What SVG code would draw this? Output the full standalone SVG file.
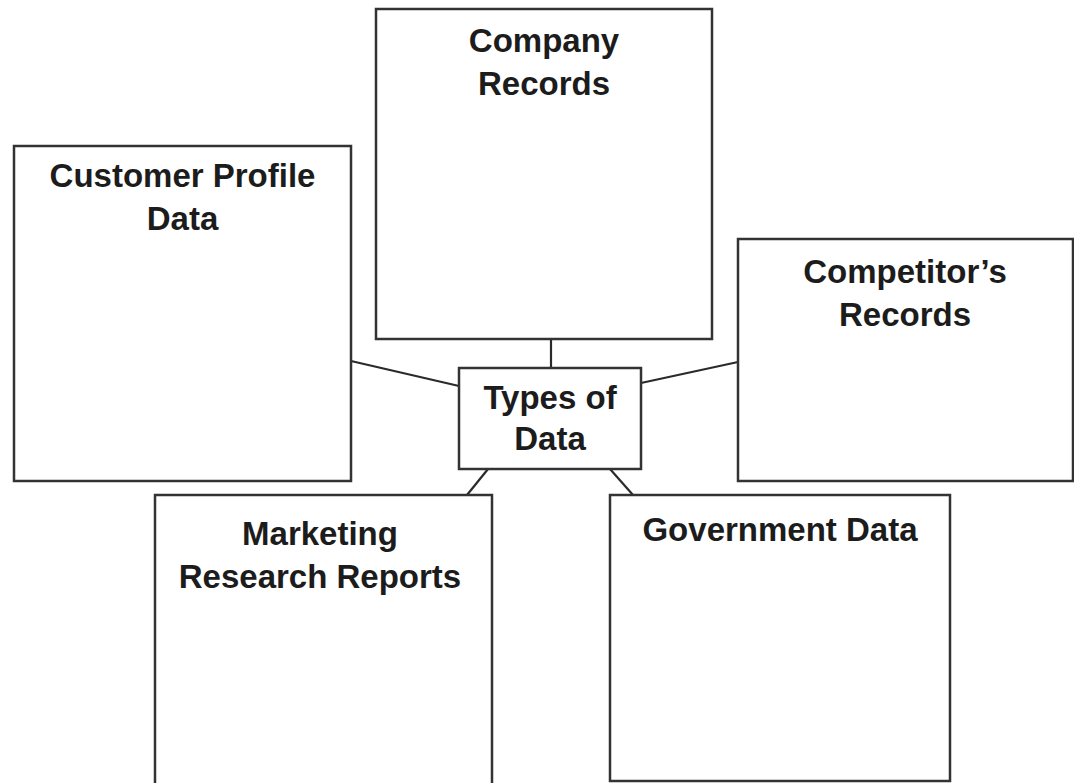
<svg xmlns="http://www.w3.org/2000/svg" width="1074" height="783" viewBox="0 0 1074 783">
<style>
.box{fill:#fff;stroke:#333;stroke-width:2.5}
.lbl{font-family:"Liberation Sans",Arial,sans-serif;font-weight:bold;font-size:33px;fill:#1c1c1c;text-anchor:middle}
.con{stroke:#2a2a2a;stroke-width:2.2;fill:none}
</style>
<rect width="1074" height="783" fill="#fff"/>
<g id="connectors">
<line class="con" x1="551" y1="339" x2="551" y2="368"/>
<line class="con" x1="351" y1="361" x2="459" y2="386"/>
<line class="con" x1="738" y1="362" x2="641" y2="383"/>
<line class="con" x1="488" y1="469" x2="467" y2="495"/>
<line class="con" x1="610" y1="469" x2="633" y2="495"/>
</g>
<g id="company-records">
<rect class="box" x="376" y="9" width="336" height="330"/>
<text class="lbl" x="544" y="52">Company</text>
<text class="lbl" x="544" y="95">Records</text>
</g>
<g id="customer-profile-data">
<rect class="box" x="14" y="146" width="337" height="335"/>
<text class="lbl" x="182.5" y="187">Customer Profile</text>
<text class="lbl" x="182.5" y="230">Data</text>
</g>
<g id="competitors-records">
<rect class="box" x="738" y="239" width="335" height="242"/>
<text class="lbl" x="905" y="283">Competitor’s</text>
<text class="lbl" x="905" y="326">Records</text>
</g>
<g id="types-of-data">
<rect class="box" x="459" y="368" width="182" height="101"/>
<text class="lbl" x="550" y="409">Types of</text>
<text class="lbl" x="550" y="450">Data</text>
</g>
<g id="marketing-research-reports">
<rect class="box" x="155" y="495" width="337" height="295"/>
<text class="lbl" x="320" y="545">Marketing</text>
<text class="lbl" x="320" y="588">Research Reports</text>
</g>
<g id="government-data">
<rect class="box" x="610" y="495" width="340" height="286"/>
<text class="lbl" x="780" y="541">Government Data</text>
</g>
</svg>
